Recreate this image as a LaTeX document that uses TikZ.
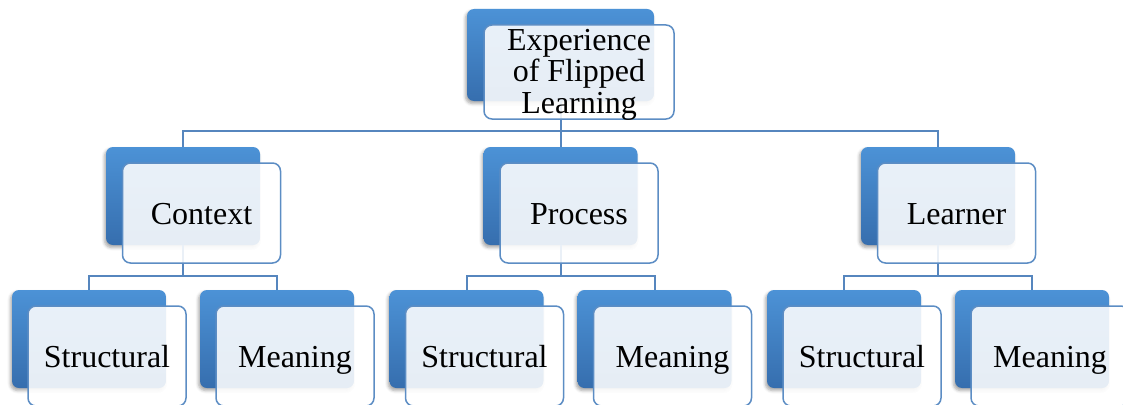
\documentclass[tikz,border=0pt]{standalone}
\usepackage{fontspec}
\setmainfont{Liberation Serif}
\usetikzlibrary{shadows.blur}
\definecolor{backtop}{RGB}{76,146,214}
\definecolor{backbot}{RGB}{54,110,174}
\definecolor{frontline}{RGB}{92,141,196}
\definecolor{conncol}{RGB}{86,134,190}
\begin{document}
\begin{tikzpicture}[x=1pt,y=-1pt,
  backbox/.style={draw=none, rounded corners=7pt, top color=backtop, bottom color=backbot,
    minimum width=154pt, minimum height=98pt, inner sep=0pt,
    blur shadow={shadow xshift=-1.5pt, shadow yshift=-2.5pt, shadow blur radius=3pt, shadow opacity=35}},
  frontbox/.style={draw=frontline, line width=1.5pt, rounded corners=8pt, fill=white,
    fill opacity=0.88, text opacity=1, minimum width=158pt, minimum height=100pt,
    inner sep=0pt, font=\fontsize{32}{31.5}\selectfont, align=center},
  oneline/.style={text height=23.5pt, text depth=0pt},
  connline/.style={draw=conncol, line width=2pt}]
\useasboundingbox (0,0) rectangle (1123,404);
\clip (0,0) rectangle (1123,404);
% back boxes
\node[backbox, minimum width=187pt, minimum height=92pt] (topb) at (560.5,55) {};
\foreach \i/\x in {1/183,2/560.5,3/938}{
  \node[backbox] (b\i) at (\x,196) {};
}
\foreach \i/\x in {1/89,2/466.5,3/844}{
  \node[backbox] (c\i a) at (\x,339) {};
  \node[backbox] (c\i b) at (\x+188,339) {};
}
% connectors
\coordinate (bus1) at (0,131);
\coordinate (bus2) at (0,276);
\foreach \i in {1,2,3}{
  \draw[connline] (topb.south) -- (topb.south |- bus1) -| (b\i.north);
  \draw[connline] (b\i.south) -- (b\i.south |- bus2) -| (c\i a.north);
  \draw[connline] (b\i.south) -- (b\i.south |- bus2) -| (c\i b.north);
}
% front boxes
\node[frontbox, minimum width=190pt, minimum height=94pt, text depth=2pt] (topf) at (579,72) {Experience\\of Flipped\\Learning};
\foreach \i/\x/\t in {1/183/Context,2/560.5/Process,3/938/Learner}{
  \node[frontbox, oneline] (f\i) at (\x+18.5,213) {\t};
}
\foreach \i/\x in {1/89,2/466.5,3/844}{
  \node[frontbox, oneline] (g\i a) at (\x+18,356) {Structural};
  \node[frontbox, oneline] (g\i b) at (\x+206,356) {Meaning};
}
\end{tikzpicture}
\end{document}
